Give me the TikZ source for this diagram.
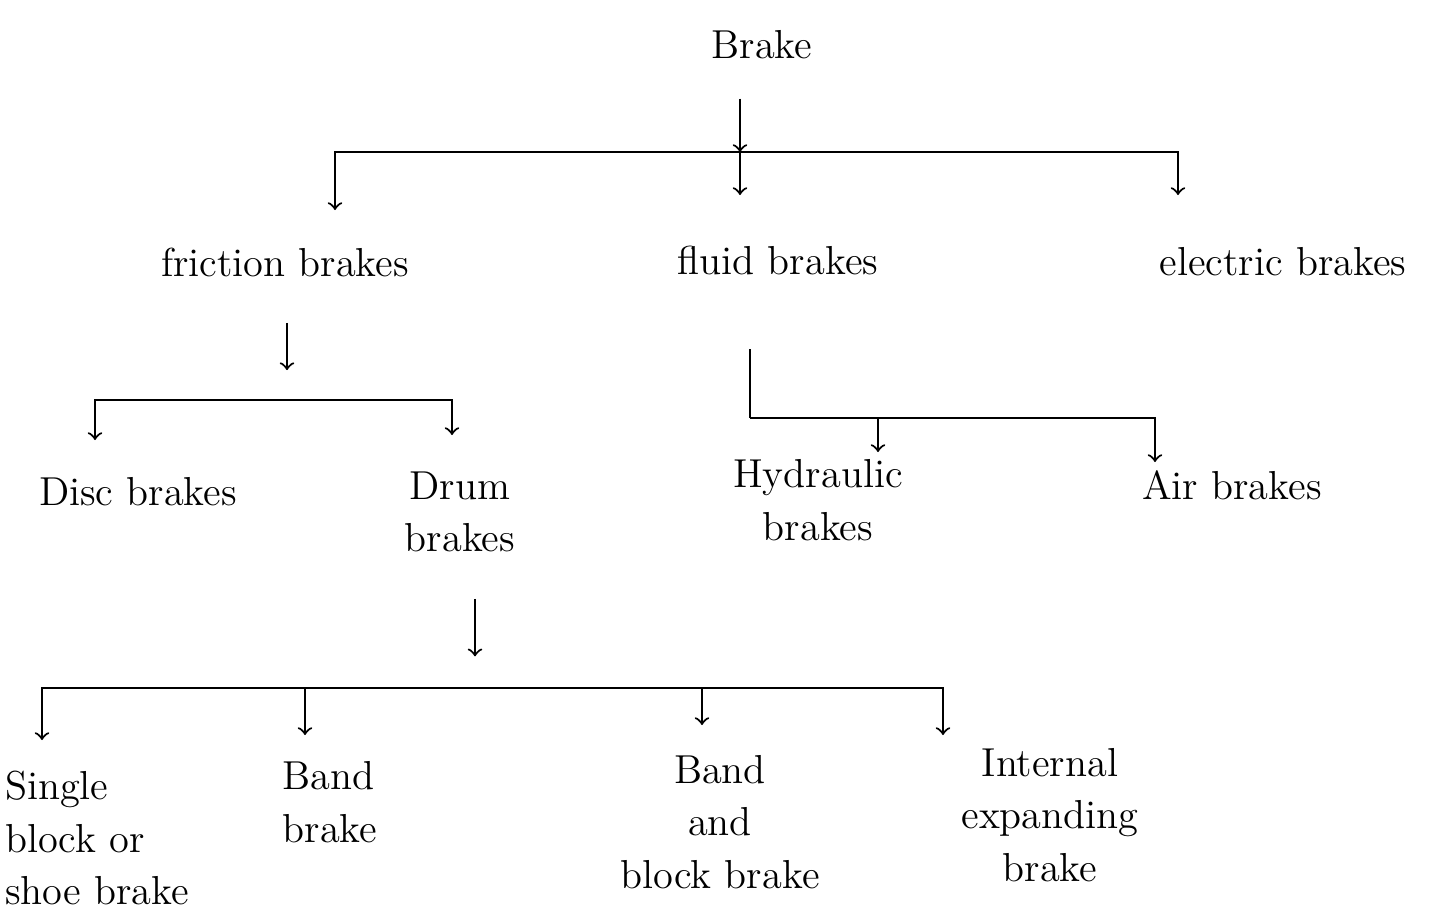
\documentclass[tikz,border=0pt]{standalone}
\usetikzlibrary{positioning}
\tikzset{
  lbl/.style={font=\fontsize{11.5}{15}\selectfont, align=center, inner sep=1pt},
  arr/.style={->, semithick},
  bar/.style={semithick}
}
\begin{document}
\begin{tikzpicture}[x=0.01cm,y=-0.01cm]
\useasboundingbox (0,0) rectangle (1444,923);
% labels
\node[lbl] (brake) at (762,45) {Brake};
\node[lbl] (friction) at (285,262) {friction brakes};
\node[lbl] (fluid) at (778,260) {fluid brakes};
\node[lbl] (electric) at (1283,262) {electric brakes};
\node[lbl] (disc) at (138,492) {Disc brakes};
\node[lbl] (drum) at (460,512) {Drum\\brakes};
\node[lbl] (hydraulic) at (818,500) {Hydraulic\\brakes};
\node[lbl] (air) at (1232,485) {Air brakes};
\node[lbl, align=left] (single) at (97,838) {Single\\block or\\shoe brake};
\node[lbl, align=left] (band) at (330,802) {Band\\brake};
\node[lbl] (bandblock) at (720,822) {Band\\and\\block brake};
\node[lbl] (internal) at (1050,815) {Internal\\expanding\\brake};
% junctions and arrow ends
\coordinate (j1) at (740,152);
\coordinate (a-fr) at (335,210);
\coordinate (a-fl) at (740,195);
\coordinate (a-el) at (1178,195);
\coordinate (j2) at (287,400);
\coordinate (a-disc) at (95,440);
\coordinate (a-drum) at (452,435);
\coordinate (j3) at (750,418);
\coordinate (a-hyd) at (878,452);
\coordinate (a-air) at (1155,462);
\coordinate (j4) at (475,688);
\coordinate (a-single) at (42,740);
\coordinate (a-band) at (305,735);
\coordinate (a-bb) at (702,725);
\coordinate (a-int) at (943,735);
% top level
\draw[arr, shorten <=10pt] (brake.south -| j1) -- (j1);
\draw[arr] (j1) -| (a-fr);
\draw[arr] (j1) -- (a-fl);
\draw[arr] (j1) -| (a-el);
% friction brakes
\draw[arr, shorten <=12pt, shorten >=8.5pt] (friction.south -| j2) -- (j2);
\draw[arr] (j2) -| (a-disc);
\draw[arr] (j2) -| (a-drum);
% fluid brakes
\draw[bar, shorten <=20pt] (fluid.south -| j3) -- (j3);
\draw[arr] (j3) -| (a-air);
\draw[arr] (j3 -| a-hyd) -- (a-hyd);
% drum brakes
\draw[arr, shorten <=12pt, shorten >=9pt] (drum.south -| j4) -- (j4);
\draw[arr] (j4) -| (a-single);
\draw[arr] (j4) -| (a-band);
\draw[arr] (j4) -| (a-bb);
\draw[arr] (j4) -| (a-int);
\end{tikzpicture}
\end{document}
